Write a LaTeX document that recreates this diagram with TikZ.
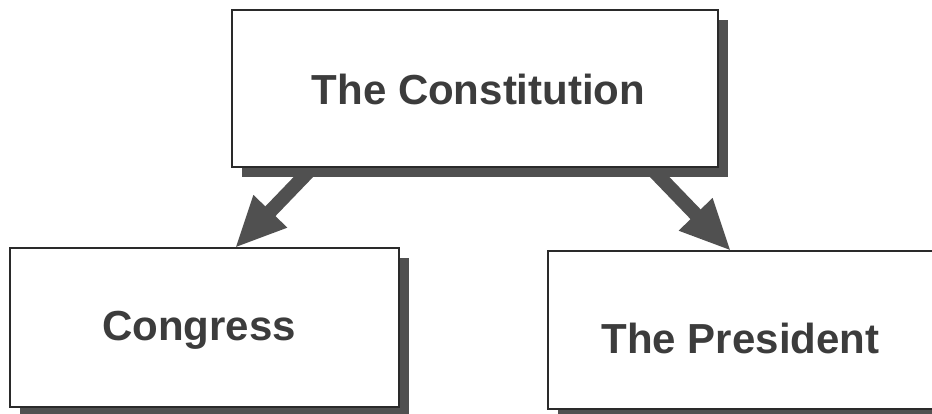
\documentclass[tikz,border=0pt]{standalone}
\usepackage{fontspec}
\setmainfont{Liberation Sans}
\usetikzlibrary{arrows.meta,backgrounds,shadows}
\definecolor{inkgray}{HTML}{2A2A2A}
\definecolor{shadegray}{HTML}{505050}
\definecolor{textgray}{HTML}{3C3C3C}
\begin{document}
\begin{tikzpicture}[x=1pt,y=-1pt,
  panel/.style={draw=inkgray, line width=1.6pt, fill=white, rectangle,
    inner sep=0pt, outer sep=0pt,
    general shadow={fill=shadegray, shadow xshift=10pt, shadow yshift=-10pt}},
  caption/.style={font=\fontsize{42}{50}\selectfont\bfseries, text=textgray,
    anchor=base, inner sep=0pt},
  bigarrow/.style={draw=shadegray, line width=14pt,
    -{Triangle[length=51pt,width=43pt]}}
]
\useasboundingbox (0,0) rectangle (932,413);

% boxes
\node[panel, minimum width=486pt, minimum height=157pt] (con) at (475,88.5) {};
\node[caption] (conT) at ([xshift=3.5pt,yshift=-15.5pt]con.center) {The Constitution};

\node[panel, minimum width=389pt, minimum height=159pt] (cong) at (204.5,327.5) {};
\node[caption] (congT) at ([xshift=-5.5pt,yshift=-12.5pt]cong.center) {Congress};

\node[panel, minimum width=385pt, minimum height=158pt] (pres) at (740.5,330) {};
\node[caption] (presT) at ([yshift=-23pt]pres.center) {The President};

% connectors, drawn beneath the boxes
\begin{scope}[on background layer]
  \fill[white] (0,0) rectangle (932,413);
  \draw[bigarrow] ([xshift=81pt]con.south west) -- ([xshift=225pt]cong.north west);
  \draw[bigarrow] ([xshift=418pt]con.south west) -- ([xshift=183pt]pres.north west);
\end{scope}
\end{tikzpicture}
\end{document}
